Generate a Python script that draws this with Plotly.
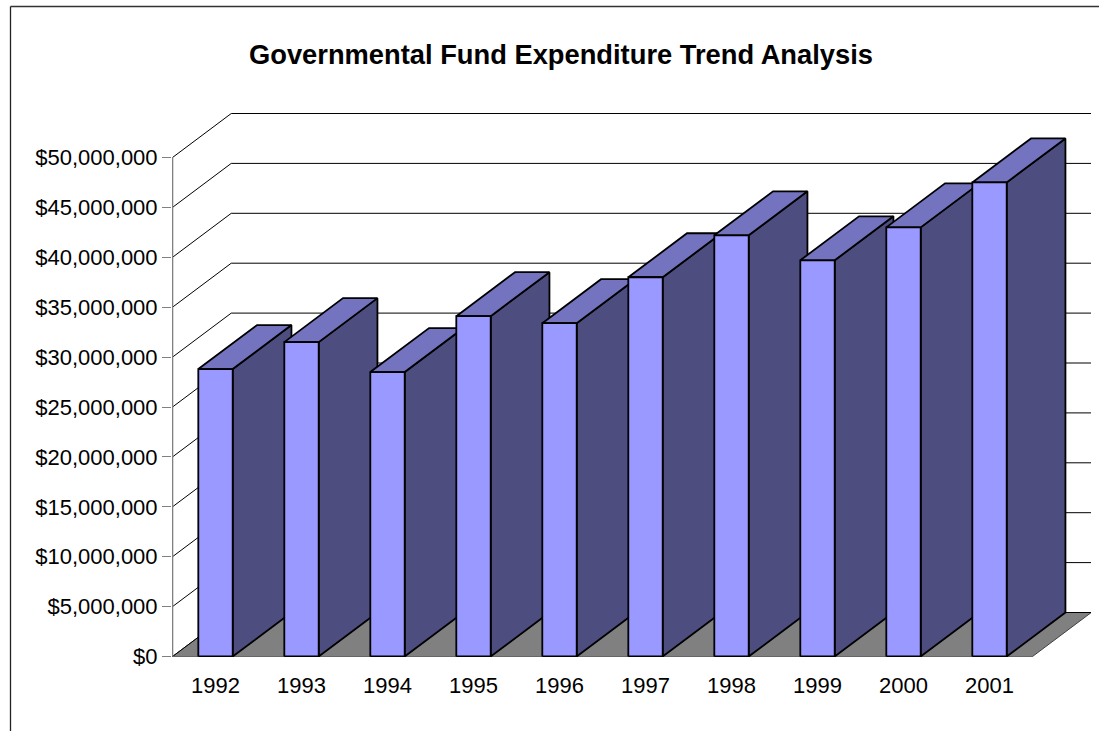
import plotly.graph_objects as go

# Data
years = ["1992", "1993", "1994", "1995", "1996", "1997", "1998", "1999", "2000", "2001"]
expenditure = [28800000, 31500000, 28500000, 34100000, 33400000,
               38000000, 42200000, 39700000, 43000000, 47500000]
y_ticks = [0, 5000000, 10000000, 15000000, 20000000, 25000000,
           30000000, 35000000, 40000000, 45000000, 50000000]
y_labels = ["$0", "$5,000,000", "$10,000,000", "$15,000,000", "$20,000,000", "$25,000,000",
            "$30,000,000", "$35,000,000", "$40,000,000", "$45,000,000", "$50,000,000"]
title = "Governmental Fund Expenditure Trend Analysis"

# Oblique projection, in axis units
DX = 0.683
DY = 4409000
BAR_L = 0.3
BAR_R = 0.7
N = len(years)
Y_MAX = y_ticks[-1]

W, H = 1099, 731
ML, MR, MT, MB = 172, 8, 113, 74
PX_PER_CAT = 86
PX_PER_DOLLAR = 9.98e-6
X_LO = -0.5 / PX_PER_CAT
Y_LO = -0.5 / PX_PER_DOLLAR
FRAME_X, FRAME_Y = 10.5, 6.5

fig = go.Figure()


def poly(xs, ys, fill, line="black", width=1.0):
    fig.add_trace(go.Scatter(x=xs + xs[:1], y=ys + ys[:1], mode="lines", fill="toself",
                             fillcolor=fill, line=dict(color=line, width=width),
                             hoverinfo="skip", showlegend=False, cliponaxis=False))


def path(xs, ys, color="black", width=1.0):
    fig.add_trace(go.Scatter(x=xs, y=ys, mode="lines", line=dict(color=color, width=width),
                             hoverinfo="skip", showlegend=False, cliponaxis=False))


# floor
poly([0, N, N + DX, DX], [0, 0, DY, DY], "#808080", line="#404040", width=1)

# wall gridlines
for v in y_ticks:
    path([0, DX, N + DX], [v, v + DY, v + DY], "black", 1)

# axis lines
path([0, 0], [0, Y_MAX], "#808080", 1.6)
path([0, N], [0, 0], "#666666", 1.2)

# bars
for i, v in enumerate(expenditure):
    x0, x1 = i + BAR_L, i + BAR_R
    poly([x1, x1 + DX, x1 + DX, x1], [0, DY, v + DY, v], "#4D4D80", width=1.8)
    poly([x0, x1, x1 + DX, x0 + DX], [v, v, v + DY, v + DY], "#7373BF", width=1.8)
    poly([x0, x1, x1, x0], [0, 0, v, v], "#9999FF", width=1.8)

plot_w = W - ML - MR
plot_h = H - MT - MB
frame_x = (FRAME_X - ML) / plot_w
frame_y = (H - MB - FRAME_Y) / plot_h

fig.update_layout(
    width=W, height=H, autosize=False,
    margin=dict(l=ML, r=MR, t=MT, b=MB, pad=0),
    paper_bgcolor="white", plot_bgcolor="white",
    showlegend=False,
    font=dict(family="Liberation Sans, Arial, sans-serif", color="black", size=22),
    title=dict(text="<b>" + title + "</b>", x=561 / W, xref="container",
               xanchor="center", y=1 - 54 / H, yanchor="middle",
               font=dict(family="Liberation Sans, Arial, sans-serif", size=27.3, color="black")),
    xaxis=dict(range=[X_LO, X_LO + plot_w / PX_PER_CAT], tickmode="array",
               tickvals=[i + 0.5 for i in range(N)], ticktext=years,
               showgrid=False, zeroline=False, showline=False, ticks="", ticklabelstandoff=13,
               fixedrange=True, tickfont=dict(size=22)),
    yaxis=dict(range=[Y_LO, Y_LO + plot_h / PX_PER_DOLLAR], tickmode="array",
               tickvals=y_ticks, ticktext=y_labels,
               showgrid=False, zeroline=False, showline=False, ticks="outside", ticklen=9,
               tickcolor="#808080", tickwidth=1.3, fixedrange=True, tickfont=dict(size=22)),
    shapes=[
        dict(type="line", xref="paper", yref="paper",
             x0=frame_x, x1=frame_x, y0=-1, y1=frame_y,
             line=dict(color="#222222", width=1.3)),
        dict(type="line", xref="paper", yref="paper",
             x0=frame_x, x1=(W + 5 - ML) / plot_w, y0=frame_y, y1=frame_y,
             line=dict(color="#333333", width=1.5)),
    ],
)

fig.write_html("out.html", config=dict(displayModeBar=False),
               post_script="document.body.style.margin='0';document.documentElement.style.overflow='hidden';")
